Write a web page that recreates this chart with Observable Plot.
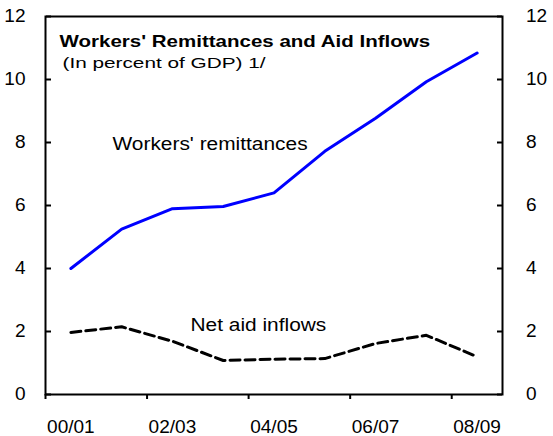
<!DOCTYPE html>
<html>
<head>
<meta charset="utf-8">
<script src="https://cdn.jsdelivr.net/npm/d3@7"></script>
<script src="https://cdn.jsdelivr.net/npm/@observablehq/plot@0.6"></script>
<style>
  html, body { margin: 0; padding: 0; background: #fff; }
</style>
</head>
<body>
<div id="chart"></div>
<script>
const categories = ["00/01","01/02","02/03","03/04","04/05","05/06","06/07","07/08","08/09"];
const remittances = [4.0, 5.25, 5.9, 5.97, 6.4, 7.72, 8.77, 9.93, 10.84];
const netAid = [1.97, 2.15, 1.69, 1.08, 1.12, 1.14, 1.62, 1.88, 1.2];
const yTicks = [0, 2, 4, 6, 8, 10, 12];
const title = "Workers' Remittances and Aid Inflows";
const subtitle = "(In percent of GDP) 1/";
const remitLabel = "Workers' remittances";
const aidLabel = "Net aid inflows";

const idx = categories.map((_, i) => i);
const labelIdx = idx.filter(i => i % 2 === 0);
const boundaries = labelIdx.map(i => i - 0.5);

const chart = Plot.plot({
  width: 553,
  height: 436,
  marginLeft: 45,
  marginRight: 51,
  marginTop: 16,
  marginBottom: 42,
  style: {fontFamily: "'Liberation Sans', Arial, sans-serif", fontSize: "18px", color: "black", background: "white"},
  x: {domain: [-0.5, categories.length - 0.5]},
  y: {domain: [0, 12]},
  marks: [
    // axis labels
    Plot.axisY(yTicks, {anchor: "left", tickSize: 0, tickPadding: 20, fontSize: 18.5, label: null}),
    Plot.axisY(yTicks, {anchor: "right", tickSize: 0, tickPadding: 23.5, fontSize: 18.5, label: null}),
    // inward tick marks
    Plot.axisY(yTicks, {anchor: "right", frameAnchor: "left", tickSize: 5, strokeWidth: 2, fill: "none", label: null}),
    Plot.axisY(yTicks, {anchor: "left", frameAnchor: "right", tickSize: 5, strokeWidth: 2, fill: "none", label: null}),
    // x ticks at category boundaries
    Plot.axisX(boundaries, {tickSize: 5, strokeWidth: 2, fill: "none", label: null}),
    Plot.axisX(labelIdx, {tickSize: 0, tickPadding: 25, fontSize: 18.5, tickFormat: i => categories[i], label: null}),
    Plot.frame({stroke: "black", strokeWidth: 2}),
    Plot.line(idx, {x: i => i, y: i => remittances[i], stroke: "#0000ff", strokeWidth: 3}),
    Plot.line(idx, {x: i => i, y: i => netAid[i], stroke: "black", strokeWidth: 3, strokeDasharray: "10,5"}),
    Plot.text([title], {frameAnchor: "top-left", dx: 14, dy: 19, lineAnchor: "top", textAnchor: "start", fontWeight: "bold", fontSize: 16.5}),
    Plot.text([subtitle], {frameAnchor: "top-left", dx: 17, dy: 40.5, lineAnchor: "top", textAnchor: "start", fontSize: 15.5}),
    Plot.text([remitLabel], {frameAnchor: "top-left", dx: 67, dy: 120, lineAnchor: "top", textAnchor: "start", fontSize: 18.5}),
    Plot.text([aidLabel], {frameAnchor: "top-left", dx: 145, dy: 301, lineAnchor: "top", textAnchor: "start", fontSize: 18.5})
  ]
});

// Horizontal stretch of the text glyphs to match the reference proportions
const stretch = new Map([[title, 1.243], [subtitle, 1.34], [remitLabel, 1.13], [aidLabel, 1.13]]);
d3.select(chart).selectAll("text").each(function() {
  const s = stretch.get(this.textContent) || 1.03;
  const t = this.getAttribute("transform") || "";
  this.setAttribute("transform", (t + " scale(" + s + ",1)").trim());
});

document.getElementById("chart").appendChild(chart);
</script>
</body>
</html>
